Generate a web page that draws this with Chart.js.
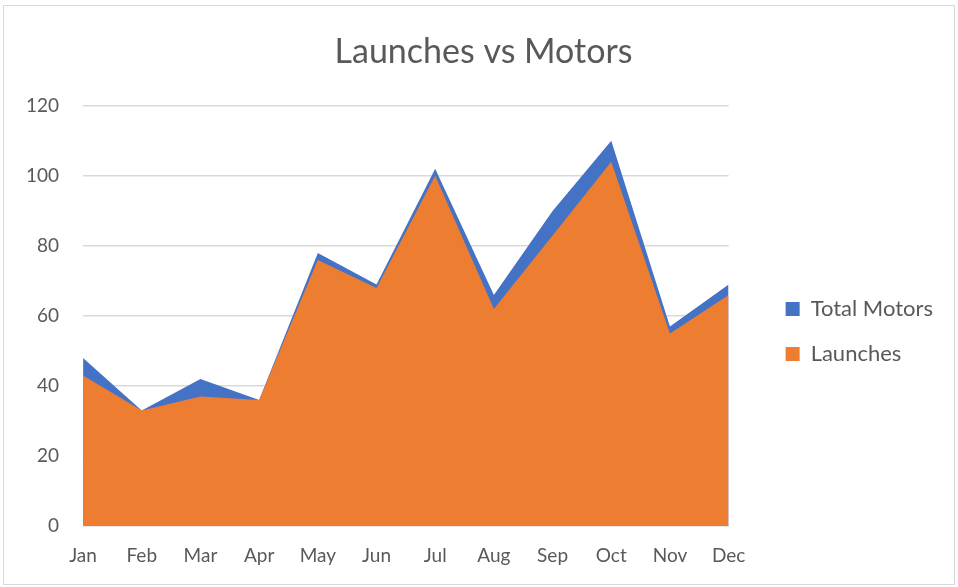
<!DOCTYPE html>
<html>
<head>
<meta charset="utf-8">
<script src="https://cdn.jsdelivr.net/npm/chart.js@4/dist/chart.umd.min.js"></script>
<style>
  html, body { margin: 0; padding: 0; background: #fff; }
  #wrap { position: relative; width: 958px; height: 587px; }
  #frame { position: absolute; left: 3px; top: 5px; width: 950px; height: 578px; border: 1px solid #d9d9d9; pointer-events: none; }
</style>
</head>
<body>
<div id="wrap">
  <canvas id="launchChart" width="958" height="587"></canvas>
  <div id="frame"></div>
</div>
<script>
// Chart data
const months = ["Jan", "Feb", "Mar", "Apr", "May", "Jun", "Jul", "Aug", "Sep", "Oct", "Nov", "Dec"];
const totalMotors = [48, 33, 42, 36, 78, 69, 102, 66, 90, 110, 57, 69];
const launches = [43, 33, 37, 36, 76, 68, 100, 62, 83, 104, 55, 66];
const yTicks = [0, 20, 40, 60, 80, 100, 120];

const textColor = "#595959";
Chart.defaults.font.family = "Lato, 'Open Sans', sans-serif";
Chart.defaults.color = textColor;

// nudge legend and title to where Excel puts them
const boxShift = {
  id: "boxShift",
  afterLayout: function (chart) {
    chart.legend.left += 34;
    chart.legend.right += 34;
    chart.legend.top += 24;
    chart.legend.bottom += 24;
    chart.titleBlock.left += 28;
    chart.titleBlock.right += 28;
    chart.titleBlock.top += 2;
    chart.titleBlock.bottom += 2;
  },
};

const ctx = document.getElementById("launchChart").getContext("2d");
const launchChart = new Chart(ctx, {
  type: "line",
  data: {
    labels: months,
    datasets: [
      {
        label: "Total Motors",
        data: totalMotors,
        backgroundColor: "#4472C4",
        borderColor: "#4472C4",
        borderWidth: 0,
        pointRadius: 0,
        tension: 0,
        fill: "origin",
        order: 2,
      },
      {
        label: "Launches",
        data: launches,
        backgroundColor: "#ED7D31",
        borderColor: "#ED7D31",
        borderWidth: 0,
        pointRadius: 0,
        tension: 0,
        fill: "origin",
        order: 1,
      },
    ],
  },
  options: {
    responsive: false,
    animation: false,
    layout: {
      padding: { left: 2, right: 49, top: 30, bottom: 2 },
    },
    plugins: {
      title: {
        display: true,
        text: "Launches vs Motors",
        color: textColor,
        font: { size: 34, weight: "normal" },
        padding: { top: 0, bottom: 35 },
      },
      legend: {
        position: "right",
        labels: {
          boxWidth: 14,
          boxHeight: 14,
          padding: 23,
          color: textColor,
          font: { size: 22 },
          sort: function (a, b) { return a.datasetIndex - b.datasetIndex; },
        },
      },
      tooltip: { enabled: false },
    },
    scales: {
      x: {
        offset: false,
        grid: { display: false, drawTicks: false },
        border: { display: false },
        ticks: { padding: 18, font: { size: 19 }, maxRotation: 0 },
      },
      y: {
        min: yTicks[0],
        max: yTicks[yTicks.length - 1],
        afterBuildTicks: function (axis) {
          axis.ticks = yTicks.map(function (v) { return { value: v }; });
        },
        grid: { color: "#d9d9d9", lineWidth: 1.5, drawTicks: false },
        border: { display: false },
        ticks: { padding: 24, font: { size: 19 } },
      },
    },
  },
  plugins: [boxShift],
});
</script>
</body>
</html>
